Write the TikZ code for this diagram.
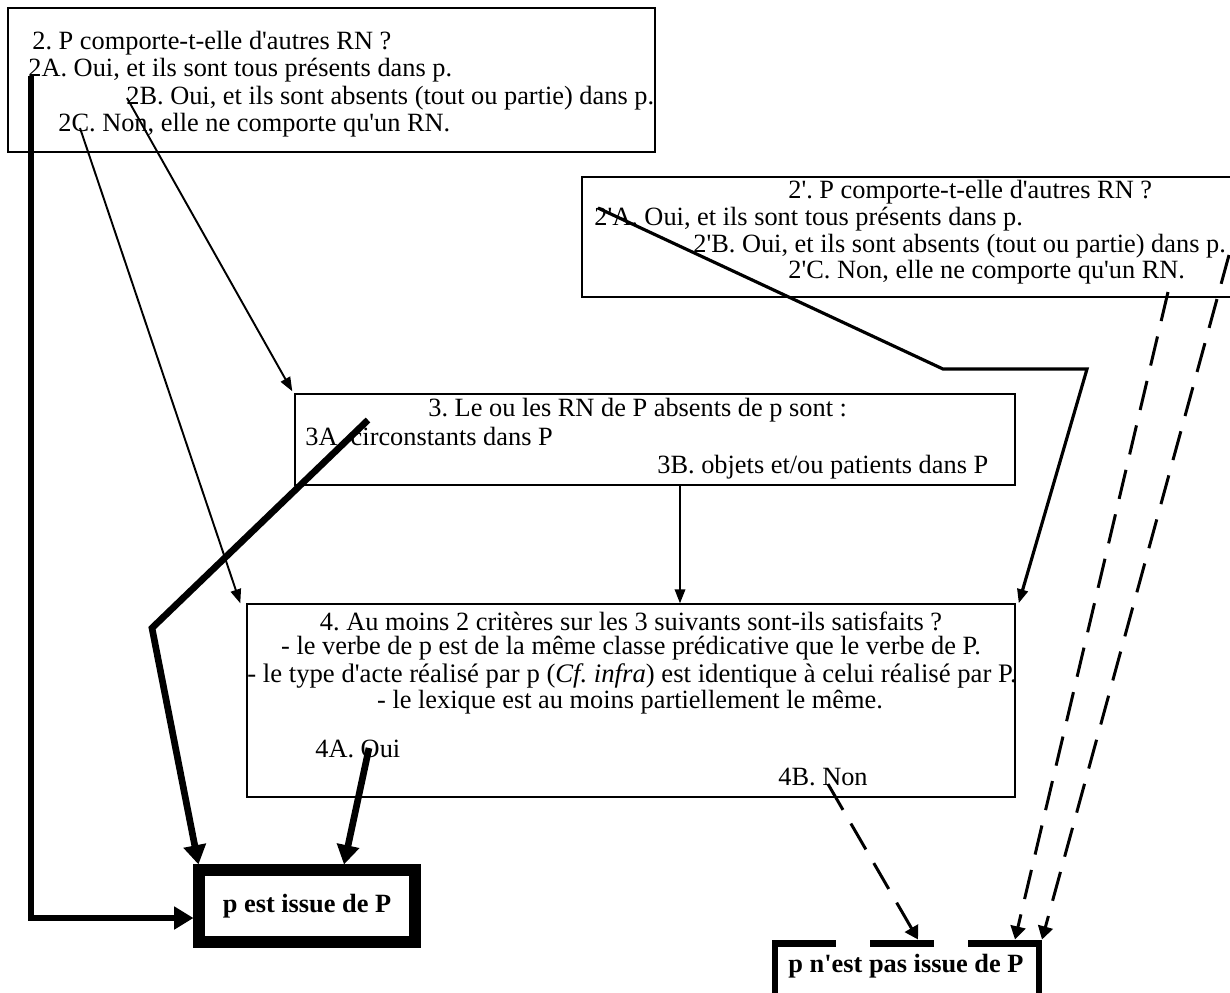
\documentclass[tikz,border=0pt]{standalone}
\usepackage{fontspec}
\setmainfont{Liberation Serif}[Ligatures=TeXOff]
\usetikzlibrary{positioning,arrows.meta,fit,calc}
\frenchspacing
\tikzset{
    qbox/.style={
        rectangle,
        draw=black,
        line width=0.8pt,
        inner sep=0pt
    },
    txt/.style={
        anchor=west,
        inner sep=0pt
    },
    yesbox/.style={
        rectangle,
        draw=black,
        line width=6.3pt,
        minimum width=4.32cm,
        minimum height=1.44cm,
        font=\fontsize{15}{18}\selectfont\bfseries
    },
    nbord/.style={
        line width=3.7pt
    },
    thinarrow/.style={
        line width=1.1pt,
        -{Triangle[length=8pt,width=6pt]}
    },
    thickarrow/.style={
        line width=3.8pt,
        -{Triangle[length=11pt,width=12.5pt]}
    },
    negarrow/.style={
        line width=1.7pt,
        dash pattern=on 17pt off 9pt,
        -{Triangle[length=7.5pt,width=8.5pt]}
    }
}

\begin{document}
\begin{tikzpicture}[x=0.02cm,y=-0.02cm,font=\fontsize{15}{18}\selectfont]
  \useasboundingbox (0,0) rectangle (1230,992);
  \clip (0,0) rectangle (1230,992);

  % question 2
  \node (q2) [qbox, fit={(8,8) (655,152)}] {};
  \node (q2t) [txt] at (32,43) {2. P comporte-t-elle d'autres RN ?};
  \node (q2a) [txt] at (28,70) {2A. Oui, et ils sont tous présents dans p.};
  \node (q2b) [txt] at (126,98) {2B. Oui, et ils sont absents (tout ou partie) dans p.};
  \node (q2c) [txt] at (58,125) {2C. Non, elle ne comporte qu'un RN.};

  % question 2'
  \node (r2) [qbox, fit={(582,177) (1245,297)}] {};
  \node (r2t) [txt] at (788,192) {2'. P comporte-t-elle d'autres RN ?};
  \node (r2a) [txt] at (594,219) {2'A. Oui, et ils sont tous présents dans p.};
  \node (r2b) [txt] at (693,246) {2'B. Oui, et ils sont absents (tout ou partie) dans p.};
  \node (r2c) [txt] at (788,272) {2'C. Non, elle ne comporte qu'un RN.};

  % question 3
  \node (q3) [qbox, fit={(295,394) (1015,485)}] {};
  \node (q3t) [txt] at (428,410) {3. Le ou les RN de P absents de p sont :};
  \node (q3a) [txt] at (305,437) {3A. circonstants dans P};
  \node (q3b) [txt] at (657,467) {3B. objets et/ou patients dans P};

  % question 4
  \node (q4) [qbox, fit={(247,604) (1015,797)}] {};
  \node (q4t) [inner sep=0pt] at (631,621) {4. Au moins 2 critères sur les 3 suivants sont-ils satisfaits ?};
  \node (q4i) [inner sep=0pt] at (631,648) {- le verbe de p est de la même classe prédicative que le verbe de P.};
  \node (q4ii) [inner sep=0pt, font=\fontsize{15.2}{18}\selectfont] at (632,676) {- le type d'acte réalisé par p (\textit{Cf. infra}) est identique à celui réalisé par P.};
  \node (q4iii) [inner sep=0pt] at (630,702) {- le lexique est au moins partiellement le même.};
  \node (q4a) [txt] at (315,749) {4A. Oui};
  \node (q4b) [txt] at (778,777) {4B. Non};

  % conclusions
  \node (yes) [yesbox] at (307,906) {p est issue de P};
  \node (nobx) [inner sep=0pt, outer sep=0pt, fit={(775,943.5) (1039,1040)}] {};
  \node (no) [inner sep=0pt, font=\fontsize{15}{18}\selectfont\bfseries] at (906,966) {p n'est pas issue de P};
  \draw [nbord] (nobx.south west) |- ($(nobx.north west)+(61,0)$);
  \draw [nbord] ($(nobx.north west)+(95,0)$) -- +(64,0);
  \draw [nbord] ($(nobx.north west)+(193,0)$) -| (nobx.south east);

  % departures and bends
  \coordinate (a2) at (31,76);
  \coordinate (b2) at (127,98);
  \coordinate (c2) at (80,128);
  \coordinate (a2p) at (598,208);
  \coordinate (b2p) at (1229,255);
  \coordinate (c2p) at (1168,292);
  \coordinate (a3) at (368,420);
  \coordinate (b3) at (680,467);
  \coordinate (a4) at (369,748);
  \coordinate (b4) at (828,784);
  \coordinate (k3) at (152,628);
  \coordinate (k2l) at (943,369);
  \coordinate (k2r) at (1087,369);

  \draw [thickarrow] (a2) |- ($(yes.west)+(0,12)$);
  \draw [thinarrow] (c2) -- ($(q4.north west)+(-6,0)$);
  \draw [thinarrow] (b2) -- ($(q3.north west)+(-2,-2)$);
  \draw [thickarrow] (a3) -- (k3) -- ($(yes.north west)+(5,0)$);
  \draw [thinarrow] (b3 |- q3.south) -- (b3 |- q4.north);
  \draw [thinarrow, line width=1.8pt] (a2p) -- (k2l) -- (k2r) -- ($(q4.north east)+(3,0)$);
  \draw [thickarrow] (a4) -- ($(yes.north)+(37,0)$);
  \draw [negarrow] (b4) -- ($(nobx.north west)+(143,-4)$);
  \draw [negarrow] (c2p) -- ($(nobx.north west)+(240,-4)$);
  \draw [negarrow] (b2p) -- ($(nobx.north east)+(3,-4)$);
\end{tikzpicture}
\end{document}
